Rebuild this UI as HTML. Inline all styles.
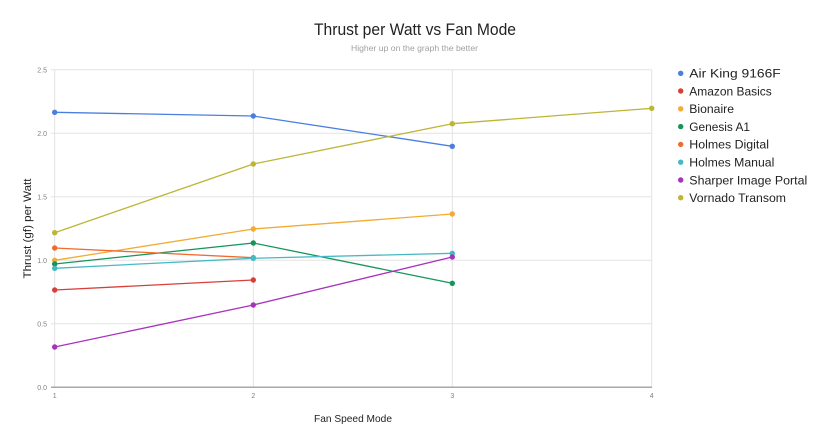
<!DOCTYPE html>
<html>
<head>
<meta charset="utf-8">
<style>
  html,body{margin:0;padding:0;background:#fff;}
  body{width:830px;height:445px;overflow:hidden;}
  svg{display:block;}
  text{font-family:"Liberation Sans", Arial, sans-serif;}
</style>
</head>
<body>
<svg width="830" height="445" viewBox="0 0 830 445" xmlns="http://www.w3.org/2000/svg">
  <rect width="830" height="445" fill="#ffffff"/>

  <!-- Title -->
  <text x="415" y="35" font-size="17" fill="#222" text-anchor="middle" textLength="202" lengthAdjust="spacingAndGlyphs">Thrust per Watt vs Fan Mode</text>
  <text x="414.5" y="51" font-size="8.5" fill="#a0a0a0" text-anchor="middle" textLength="127" lengthAdjust="spacingAndGlyphs">Higher up on the graph the better</text>

  <!-- Horizontal gridlines -->
  <g stroke="#e3e3e3" stroke-width="1">
    <line x1="51" y1="69.8" x2="652" y2="69.8"/>
    <line x1="51" y1="133.3" x2="652" y2="133.3"/>
    <line x1="51" y1="196.8" x2="652" y2="196.8"/>
    <line x1="51" y1="260.3" x2="652" y2="260.3"/>
    <line x1="51" y1="323.8" x2="652" y2="323.8"/>
  </g>
  <!-- Vertical gridlines -->
  <g stroke="#e3e3e3" stroke-width="1">
    <line x1="54.7" y1="69.8" x2="54.7" y2="387"/>
    <line x1="253.3" y1="69.8" x2="253.3" y2="387"/>
    <line x1="452.3" y1="69.8" x2="452.3" y2="387"/>
    <line x1="651.7" y1="69.8" x2="651.7" y2="387"/>
  </g>
  <!-- Baseline -->
  <line x1="51" y1="387.3" x2="652" y2="387.3" stroke="#a8a8a8" stroke-width="1.5"/>

  <!-- Y tick labels -->
  <g font-size="7" fill="#808080" text-anchor="end">
    <text x="47" y="72.3">2.5</text>
    <text x="47" y="135.8">2.0</text>
    <text x="47" y="199.3">1.5</text>
    <text x="47" y="262.8">1.0</text>
    <text x="47" y="326.3">0.5</text>
    <text x="47" y="389.8">0.0</text>
  </g>
  <!-- X tick labels -->
  <g font-size="7" fill="#808080" text-anchor="middle">
    <text x="54.7" y="398">1</text>
    <text x="253.3" y="398">2</text>
    <text x="452.3" y="398">3</text>
    <text x="651.7" y="398">4</text>
  </g>

  <!-- Axis titles -->
  <text x="353" y="422" font-size="10.5" fill="#222" text-anchor="middle" textLength="78" lengthAdjust="spacingAndGlyphs">Fan Speed Mode</text>
  <text transform="translate(31,228.5) rotate(-90)" x="0" y="0" font-size="11" fill="#222" text-anchor="middle" textLength="100" lengthAdjust="spacingAndGlyphs">Thrust (gf) per Watt</text>

  <!-- Series -->
  <g fill="none" stroke-width="1.3" stroke-linejoin="round">
    <polyline stroke="#4a7fe0" points="54.7,112.3 253.3,116 452.3,146.3"/>
    <polyline stroke="#d7403a" points="54.7,290 253.3,280"/>
    <polyline stroke="#f2ab33" points="54.7,260.3 253.3,229 452.3,214"/>
    <polyline stroke="#15955a" points="54.7,264 253.3,243 452.3,283.3"/>
    <polyline stroke="#f26b2e" points="54.7,248 253.3,257.7"/>
    <polyline stroke="#46bac4" points="54.7,268.3 253.3,258.3 452.3,253.3"/>
    <polyline stroke="#a832bd" points="54.7,347 253.3,305 452.3,257"/>
    <polyline stroke="#bdb535" points="54.7,232.7 253.3,164 452.3,123.7 651.7,108.3"/>
  </g>
  <g>
    <g fill="#4a7fe0"><circle cx="54.7" cy="112.3" r="2.7"/><circle cx="253.3" cy="116" r="2.7"/><circle cx="452.3" cy="146.3" r="2.7"/></g>
    <g fill="#d7403a"><circle cx="54.7" cy="290" r="2.7"/><circle cx="253.3" cy="280" r="2.7"/></g>
    <g fill="#f2ab33"><circle cx="54.7" cy="260.3" r="2.7"/><circle cx="253.3" cy="229" r="2.7"/><circle cx="452.3" cy="214" r="2.7"/></g>
    <g fill="#15955a"><circle cx="54.7" cy="264" r="2.7"/><circle cx="253.3" cy="243" r="2.7"/><circle cx="452.3" cy="283.3" r="2.7"/></g>
    <g fill="#f26b2e"><circle cx="54.7" cy="248" r="2.7"/><circle cx="253.3" cy="257.7" r="2.7"/></g>
    <g fill="#46bac4"><circle cx="54.7" cy="268.3" r="2.7"/><circle cx="253.3" cy="258.3" r="2.7"/><circle cx="452.3" cy="253.3" r="2.7"/></g>
    <g fill="#a832bd"><circle cx="54.7" cy="347" r="2.7"/><circle cx="253.3" cy="305" r="2.7"/><circle cx="452.3" cy="257" r="2.7"/></g>
    <g fill="#bdb535"><circle cx="54.7" cy="232.7" r="2.7"/><circle cx="253.3" cy="164" r="2.7"/><circle cx="452.3" cy="123.7" r="2.7"/><circle cx="651.7" cy="108.3" r="2.7"/></g>
  </g>

  <!-- Legend -->
  <g font-size="12.3" fill="#222">
    <circle cx="680.7" cy="73.3" r="2.7" fill="#4a7fe0"/>
    <text x="689.3" y="77.6" textLength="91.4" lengthAdjust="spacingAndGlyphs">Air King 9166F</text>
    <circle cx="680.7" cy="91" r="2.7" fill="#d7403a"/>
    <text x="689.3" y="95.3" textLength="82.4" lengthAdjust="spacingAndGlyphs">Amazon Basics</text>
    <circle cx="680.7" cy="108.8" r="2.7" fill="#f2ab33"/>
    <text x="689.3" y="113.1" textLength="44.7" lengthAdjust="spacingAndGlyphs">Bionaire</text>
    <circle cx="680.7" cy="126.6" r="2.7" fill="#15955a"/>
    <text x="689.3" y="130.9" textLength="60.7" lengthAdjust="spacingAndGlyphs">Genesis A1</text>
    <circle cx="680.7" cy="144.4" r="2.7" fill="#f26b2e"/>
    <text x="689.3" y="148.7" textLength="79.7" lengthAdjust="spacingAndGlyphs">Holmes Digital</text>
    <circle cx="680.7" cy="162.2" r="2.7" fill="#46bac4"/>
    <text x="689.3" y="166.5" textLength="85" lengthAdjust="spacingAndGlyphs">Holmes Manual</text>
    <circle cx="680.7" cy="180" r="2.7" fill="#a832bd"/>
    <text x="689.3" y="184.3" textLength="118" lengthAdjust="spacingAndGlyphs">Sharper Image Portal</text>
    <circle cx="680.7" cy="197.7" r="2.7" fill="#bdb535"/>
    <text x="689.3" y="202" textLength="96.7" lengthAdjust="spacingAndGlyphs">Vornado Transom</text>
  </g>
</svg>
</body>
</html>
